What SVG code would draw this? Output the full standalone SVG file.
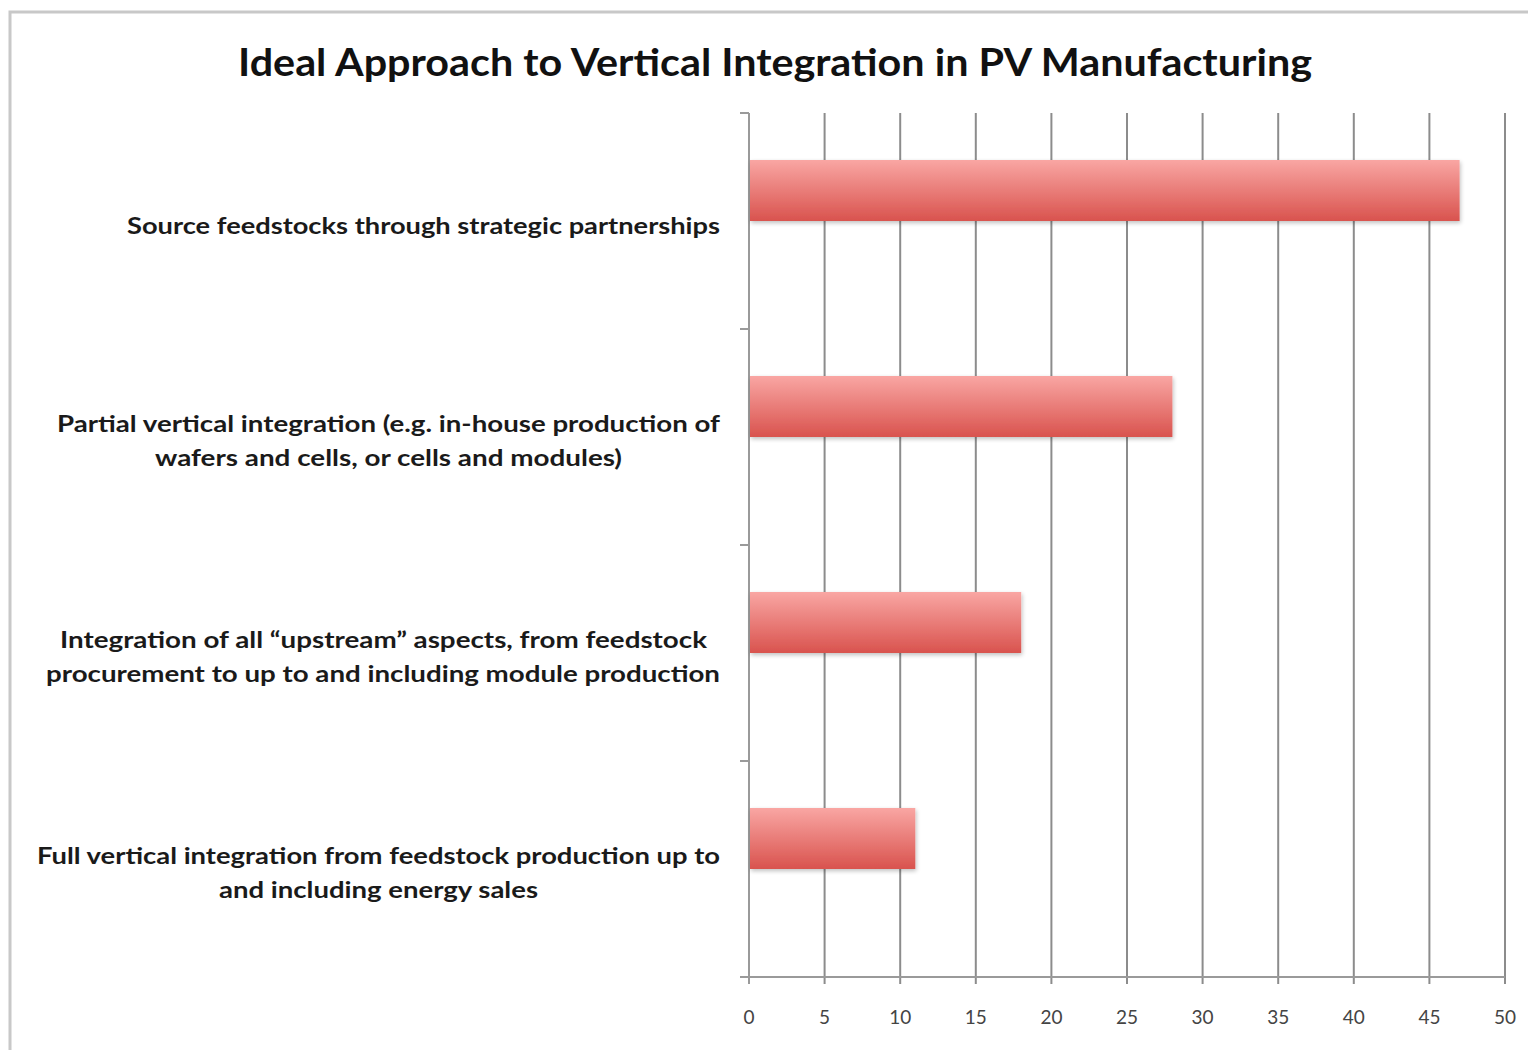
<svg xmlns="http://www.w3.org/2000/svg" width="1528" height="1050" viewBox="0 0 1528 1050">
<style>
.title{font-family:Lato,"Open Sans","Liberation Sans",sans-serif;font-weight:bold;font-size:38px;fill:#111;}
.cat{font-family:Lato,"Open Sans","Liberation Sans",sans-serif;font-weight:bold;font-size:23px;fill:#1a1a1a;text-anchor:middle;}
.tick{font-family:Lato,"Open Sans","Liberation Sans",sans-serif;font-size:19px;fill:#444;text-anchor:middle;}
.grid{stroke:#8c8c8c;stroke-width:2;fill:none;}
.axis{stroke:#9a9a9a;stroke-width:2;fill:none;}
.bar{fill:url(#barGrad);filter:url(#shadow);}
</style>
<defs>
<linearGradient id="barGrad" x1="0" y1="0" x2="0" y2="1">
<stop offset="0" stop-color="#f9a6a3"/>
<stop offset="1" stop-color="#d9534e"/>
</linearGradient>
<filter id="shadow" x="-5%" y="-20%" width="110%" height="150%">
<feGaussianBlur in="SourceAlpha" stdDeviation="2"/>
<feOffset dx="1" dy="2" result="b"/>
<feComponentTransfer><feFuncA type="linear" slope="0.25"/></feComponentTransfer>
<feMerge><feMergeNode/><feMergeNode in="SourceGraphic"/></feMerge>
</filter>
</defs>
<rect x="0" y="0" width="1528" height="1050" fill="#fff"/>
<rect x="10" y="12" width="1540" height="1060" fill="#fff" stroke="#c8c8c8" stroke-width="3"/>
<text class="title" x="775" y="76" text-anchor="middle" textLength="1074" lengthAdjust="spacingAndGlyphs">Ideal Approach to Vertical Integration in PV Manufacturing</text>
<g id="gridlines">
<line class="grid" x1="824.6" y1="113" x2="824.6" y2="984"/>
<line class="grid" x1="900.2" y1="113" x2="900.2" y2="984"/>
<line class="grid" x1="975.8" y1="113" x2="975.8" y2="984"/>
<line class="grid" x1="1051.4" y1="113" x2="1051.4" y2="984"/>
<line class="grid" x1="1127" y1="113" x2="1127" y2="984"/>
<line class="grid" x1="1202.6" y1="113" x2="1202.6" y2="984"/>
<line class="grid" x1="1278.2" y1="113" x2="1278.2" y2="984"/>
<line class="grid" x1="1353.8" y1="113" x2="1353.8" y2="984"/>
<line class="grid" x1="1429.4" y1="113" x2="1429.4" y2="984"/>
<line class="grid" x1="1505" y1="113" x2="1505" y2="984"/>
</g>
<g id="axes">
<line class="axis" x1="749" y1="113" x2="749" y2="984"/>
<line class="axis" x1="740" y1="977" x2="1505" y2="977"/>
<line class="axis" x1="740" y1="113" x2="749" y2="113"/>
<line class="axis" x1="740" y1="329" x2="749" y2="329"/>
<line class="axis" x1="740" y1="545" x2="749" y2="545"/>
<line class="axis" x1="740" y1="761" x2="749" y2="761"/>
</g>
<g id="bar-source">
<rect class="bar" x="750" y="160" width="709.6" height="61"/>
</g>
<g id="bar-partial">
<rect class="bar" x="750" y="376" width="422.4" height="61"/>
</g>
<g id="bar-upstream">
<rect class="bar" x="750" y="592" width="271.2" height="61"/>
</g>
<g id="bar-full">
<rect class="bar" x="750" y="808" width="165.3" height="61"/>
</g>
<g id="labels">
<text class="cat" x="423.5" y="234" textLength="593" lengthAdjust="spacingAndGlyphs">Source feedstocks through strategic partnerships</text>
<text class="cat" x="388.5" y="432" textLength="663" lengthAdjust="spacingAndGlyphs">Partial vertical integration (e.g. in-house production of</text>
<text class="cat" x="388.5" y="466" textLength="467" lengthAdjust="spacingAndGlyphs">wafers and cells, or cells and modules)</text>
<text class="cat" x="383.5" y="648" textLength="647" lengthAdjust="spacingAndGlyphs">Integration of all “upstream” aspects, from feedstock</text>
<text class="cat" x="383" y="682" textLength="674" lengthAdjust="spacingAndGlyphs">procurement to up to and including module production</text>
<text class="cat" x="378.5" y="864" textLength="683" lengthAdjust="spacingAndGlyphs">Full vertical integration from feedstock production up to</text>
<text class="cat" x="378.5" y="898" textLength="319" lengthAdjust="spacingAndGlyphs">and including energy sales</text>
</g>
<g id="ticklabels">
<text class="tick" x="749" y="1024">0</text>
<text class="tick" x="824.6" y="1024">5</text>
<text class="tick" x="900.2" y="1024">10</text>
<text class="tick" x="975.8" y="1024">15</text>
<text class="tick" x="1051.4" y="1024">20</text>
<text class="tick" x="1127" y="1024">25</text>
<text class="tick" x="1202.6" y="1024">30</text>
<text class="tick" x="1278.2" y="1024">35</text>
<text class="tick" x="1353.8" y="1024">40</text>
<text class="tick" x="1429.4" y="1024">45</text>
<text class="tick" x="1505" y="1024">50</text>
</g>
</svg>
